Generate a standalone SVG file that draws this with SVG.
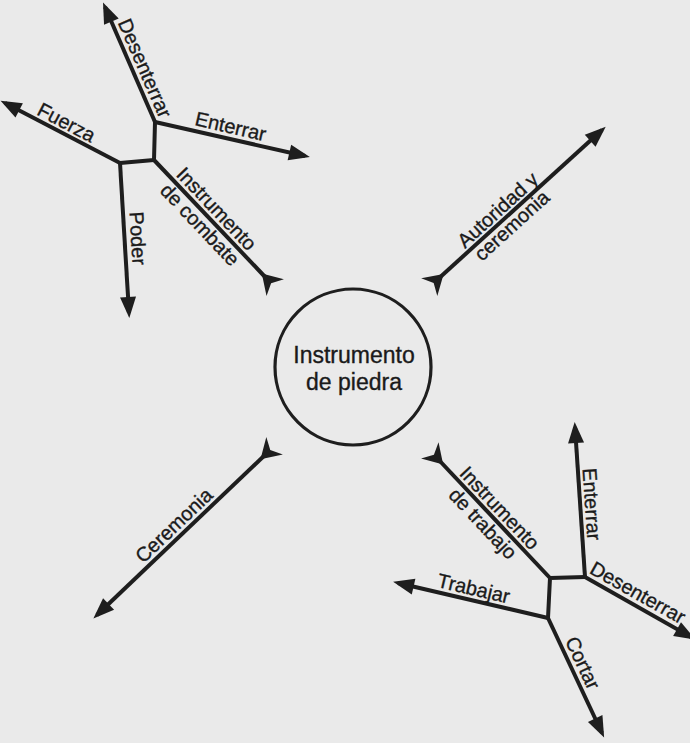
<svg xmlns="http://www.w3.org/2000/svg" width="690" height="743" viewBox="0 0 690 743">
  <style>
    .ln { fill: none; stroke: #1e1e1e; stroke-width: 4; stroke-linejoin: round; }
    .lbl { font-family: "Liberation Sans", Arial, sans-serif; font-size: 20px; fill: #1a1a1a; stroke: #1a1a1a; stroke-width: 0.35; text-anchor: middle; }
    .big { font-family: "Liberation Sans", Arial, sans-serif; font-size: 23px; fill: #1a1a1a; stroke: #1a1a1a; stroke-width: 0.35; text-anchor: middle; }
  </style>
  <defs>
    <marker id="arrow" markerUnits="userSpaceOnUse" markerWidth="30" markerHeight="30" refX="0" refY="0" viewBox="-20 -10 30 20" orient="auto">
      <path d="M5,0 L-16,-8 L-16,8 Z" fill="#1e1e1e"/>
    </marker>
    <marker id="tail" markerUnits="userSpaceOnUse" markerWidth="30" markerHeight="30" refX="0" refY="0" viewBox="-10 -10 20 20" orient="auto">
      <path d="M6,0 L-7,-8 L-3,0 L-7,8 Z" fill="#1e1e1e"/>
    </marker>
  </defs>

  <rect width="690" height="743" fill="#eaeaea"/>

  <!-- connectors -->
  <g id="connectors">
    <!-- combat cluster -->
    <path class="ln" d="M268,280 L154,160" marker-start="url(#tail)"/>
    <path class="ln" d="M120,163 L154,160 L155,122"/>
    <path class="ln" d="M155,122 L105,7" marker-end="url(#arrow)"/>
    <path class="ln" d="M155,122 L305,156" marker-end="url(#arrow)"/>
    <path class="ln" d="M120,163 L5,103" marker-end="url(#arrow)"/>
    <path class="ln" d="M120,163 L129,313" marker-end="url(#arrow)"/>
    <!-- authority -->
    <path class="ln" d="M437,280 L602,130" marker-start="url(#tail)" marker-end="url(#arrow)"/>
    <!-- ceremony -->
    <path class="ln" d="M267,453 L97,615" marker-start="url(#tail)" marker-end="url(#arrow)"/>
    <!-- work cluster -->
    <path class="ln" d="M437,458 L550,578" marker-start="url(#tail)"/>
    <path class="ln" d="M585,577 L550,578 L548,618"/>
    <path class="ln" d="M585,577 L575,427" marker-end="url(#arrow)"/>
    <path class="ln" d="M585,577 L691,637" marker-end="url(#arrow)"/>
    <path class="ln" d="M548,618 L398,583" marker-end="url(#arrow)"/>
    <path class="ln" d="M548,618 L602,733" marker-end="url(#arrow)"/>
  </g>

  <!-- central node -->
  <g id="instrumento-de-piedra">
    <circle cx="353" cy="367" r="78" fill="none" stroke="#1e1e1e" stroke-width="3.2"/>
    <text class="big" x="354" y="363">Instrumento</text>
    <text class="big" x="354" y="390">de piedra</text>
  </g>

  <!-- combat branch labels -->
  <g id="combate">
    <text class="lbl" transform="translate(208,217) rotate(46.5)" y="-5">Instrumento</text>
    <text class="lbl" transform="translate(208,217) rotate(46.5)" y="18">de combate</text>
    <text class="lbl" transform="translate(134,73) rotate(66.5)" y="-5">Desenterrar</text>
    <text class="lbl" transform="translate(228,138) rotate(12.8)" y="-5">Enterrar</text>
    <text class="lbl" transform="translate(61,133) rotate(27.6)" y="-5">Fuerza</text>
    <text class="lbl" transform="translate(126,239) rotate(86.6)" y="-5">Poder</text>
  </g>

  <g id="autoridad">
    <text class="lbl" transform="translate(505,218) rotate(-42.3)" y="-4">Autoridad y</text>
    <text class="lbl" transform="translate(505,218) rotate(-42.3)" y="17">ceremonia</text>
  </g>

  <g id="ceremonia">
    <text class="lbl" transform="translate(182,534) rotate(-43.6)" y="-5">Ceremonia</text>
  </g>

  <!-- work branch labels -->
  <g id="trabajo">
    <text class="lbl" transform="translate(491,516) rotate(46.7)" y="-5">Instrumento</text>
    <text class="lbl" transform="translate(491,516) rotate(46.7)" y="18">de trabajo</text>
    <text class="lbl" transform="translate(580,505) rotate(86.2)" y="-5">Enterrar</text>
    <text class="lbl" transform="translate(632,603) rotate(29.3)" y="-5">Desenterrar</text>
    <text class="lbl" transform="translate(471,600) rotate(13.1)" y="-5">Trabajar</text>
    <text class="lbl" transform="translate(572,668) rotate(64.8)" y="-5">Cortar</text>
  </g>
</svg>
